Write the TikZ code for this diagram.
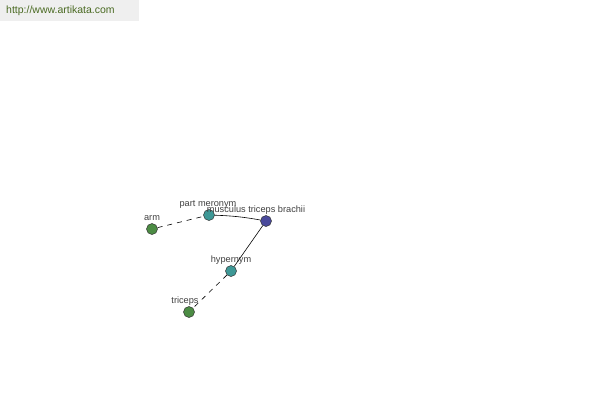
\documentclass[tikz,border=0pt]{standalone}
\usepackage{fontspec}
\setmainfont{Liberation Sans}
\usepackage{xcolor}
\usetikzlibrary{positioning,calc}
\definecolor{hubblue}{HTML}{4A4A9C}
\definecolor{relteal}{HTML}{3E9896}
\definecolor{leafgreen}{HTML}{4C8C44}
\definecolor{urlgreen}{HTML}{4A6A22}
\definecolor{urlbg}{HTML}{EFEFEF}
\tikzset{
	dot/.style={circle, draw=black!80, line width=0.5pt, minimum size=11pt, inner sep=0pt},
	lbl/.style={font=\fontsize{9.2}{10}\selectfont, text=black!75, inner sep=0pt},
	link/.style={line width=0.6pt},
	dashlink/.style={line width=0.6pt, dash pattern=on 5pt off 5pt}
}
\begin{document}
\begin{tikzpicture}[x=1pt, y=-1pt]
			\useasboundingbox (0,0) rectangle (600,400);
			\fill[urlbg] (0,0) rectangle (139,21);
			\node[anchor=west, inner sep=0pt, font=\fontsize{10.5}{11}\selectfont, text=urlgreen] (url) at (6,11) {http://www.artikata.com};
			
			\node[dot, fill=hubblue] (brachii) at (266,221) {};
			\node[dot, fill=relteal] (meronym) at (209,215) {};
			\node[dot, fill=relteal] (hypernym) at (231,271) {};
			\node[dot, fill=leafgreen] (arm) at (152,229) {};
			\node[dot, fill=leafgreen] (triceps) at (189,312) {};
			
			\node[lbl] (brachiilbl) at (256,210) {musculus triceps brachii};
			\node[lbl] (meronymlbl) at (208,204) {part meronym};
			\node[lbl] (hypernymlbl) at (231,260) {hypernym};
			\node[lbl] (armlbl) at (152,218) {arm};
			\node[lbl] (tricepslbl) at (185,301) {triceps};
			
			\draw[link] (meronym) to[bend left=4] (brachii);
			\draw[link] (brachii) -- (hypernym);
			\draw[dashlink] (arm) -- (meronym);
			\draw[dashlink] (hypernym) -- (triceps);
		\end{tikzpicture}
\end{document}
